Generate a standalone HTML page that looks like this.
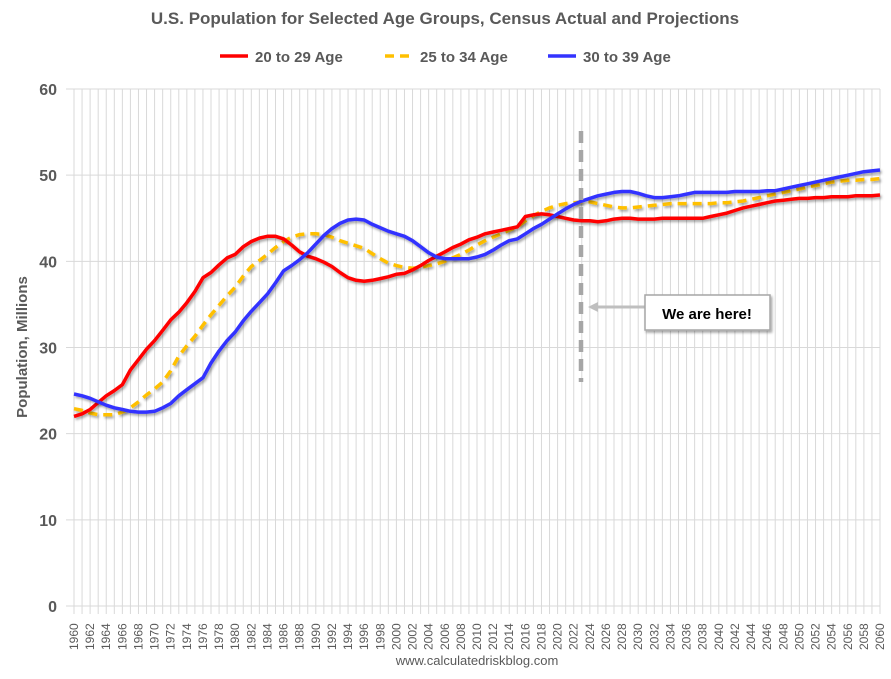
<!DOCTYPE html>
<html><head><meta charset="utf-8"><style>
body{margin:0;background:#fff;font-family:"Liberation Sans",sans-serif}
svg text{font-family:"Liberation Sans",sans-serif}
</style></head><body>
<svg id="c" width="891" height="674" xmlns="http://www.w3.org/2000/svg">
<defs><filter id="sh" x="-5%" y="-5%" width="110%" height="120%"><feDropShadow dx="1.5" dy="2" stdDeviation="1.2" flood-color="#000" flood-opacity="0.35"/></filter></defs>
<text x="445" y="24" text-anchor="middle" font-size="17" font-weight="bold" fill="#595959">U.S. Population for Selected Age Groups, Census Actual and Projections</text>
<g id="legend"></g>
<g id="grid"></g>
<g id="series"></g>
<text transform="translate(27,347) rotate(-90)" text-anchor="middle" font-size="15" font-weight="bold" fill="#595959">Population, Millions</text>
<text x="477" y="665" text-anchor="middle" font-size="13" fill="#595959">www.calculatedriskblog.com</text>
<line x1="581" y1="131" x2="581" y2="382" stroke="#a6a6a6" stroke-width="4.5" stroke-dasharray="12,7"/>
<line x1="645" y1="307" x2="596" y2="307" stroke="#bfbfbf" stroke-width="3"/>
<polygon points="588,307 598,302 598,312" fill="#bfbfbf"/>
<rect x="645" y="295" width="125" height="35" fill="#fff" stroke="#a6a6a6" stroke-width="1.5" filter="url(#sh)"/>
<text x="707" y="319" text-anchor="middle" font-size="15" font-weight="bold" fill="#000">We are here!</text>
</svg>
<script>
const years=[];for(let y=1960;y<=2060;y++)years.push(y);
const yTicks=[0,10,20,30,40,50,60];
const red=[22,22.3,22.8,23.6,24.4,25,25.7,27.4,28.6,29.8,30.8,32,33.2,34.1,35.2,36.5,38.1,38.7,39.6,40.4,40.8,41.7,42.3,42.7,42.9,42.9,42.6,41.9,41.1,40.6,40.3,39.9,39.4,38.7,38.1,37.8,37.7,37.8,38,38.2,38.5,38.6,39,39.5,40.1,40.6,41.1,41.6,42,42.5,42.8,43.2,43.4,43.6,43.8,44,45.2,45.4,45.5,45.4,45.2,45,44.8,44.7,44.7,44.6,44.7,44.9,45,45,44.9,44.9,44.9,45,45,45,45,45,45,45.2,45.4,45.6,45.9,46.2,46.4,46.6,46.8,47,47.1,47.2,47.3,47.3,47.4,47.4,47.5,47.5,47.5,47.6,47.6,47.6,47.7];
const yellow=[22.9,22.7,22.4,22.2,22.2,22.2,22.5,23,23.7,24.5,25.2,26,27.3,29,30.2,31.3,32.6,33.8,34.9,36,37,38.3,39.4,40.1,40.8,41.6,42.3,42.8,43.1,43.2,43.2,43.1,42.8,42.4,42.1,41.8,41.5,40.9,40.3,39.8,39.5,39.3,39.2,39.3,39.5,39.7,40,40.4,40.8,41.3,41.9,42.4,42.8,43.2,43.6,44,44.7,45.3,45.8,46.2,46.5,46.7,46.8,46.9,46.9,46.7,46.5,46.3,46.2,46.2,46.3,46.4,46.5,46.6,46.7,46.7,46.7,46.7,46.7,46.7,46.8,46.8,46.9,47,47.2,47.4,47.6,47.8,48,48.2,48.4,48.6,48.8,49,49.2,49.3,49.4,49.4,49.5,49.5,49.6];
const blue=[24.6,24.4,24.1,23.7,23.3,23,22.8,22.6,22.5,22.5,22.6,23,23.5,24.4,25.1,25.8,26.5,28.2,29.6,30.8,31.8,33.1,34.2,35.2,36.2,37.5,38.9,39.5,40.2,41,42,43,43.8,44.4,44.8,44.9,44.8,44.3,43.9,43.5,43.2,42.9,42.4,41.7,41,40.5,40.3,40.3,40.3,40.3,40.5,40.8,41.3,41.9,42.4,42.6,43.2,43.8,44.3,44.9,45.5,46.1,46.6,47,47.3,47.6,47.8,48,48.1,48.1,47.9,47.6,47.4,47.4,47.5,47.6,47.8,48,48,48,48,48,48.1,48.1,48.1,48.1,48.2,48.2,48.4,48.6,48.8,49,49.2,49.4,49.6,49.8,50,50.2,50.4,50.5,50.6];
const seriesNames=["20 to 29 Age","25 to 34 Age","30 to 39 Age"];
const NS="http://www.w3.org/2000/svg";
const X0=74,X1=880,Y0=606,Y1=89;
const xs=i=>X0+(X1-X0)*i/(years.length-1);
const ys=v=>Y0-(Y0-Y1)*v/60;
function mk(t,a,p){const e=document.createElementNS(NS,t);for(const k in a)e.setAttribute(k,a[k]);p.appendChild(e);return e;}
const g=document.getElementById('grid');
years.forEach((yr,i)=>{
 const l=mk('line',{x1:xs(i),x2:xs(i),y1:Y1,y2:Y0+8,stroke:'#d9d9d9','stroke-width':1},g);
 
 
 if(yr%2===0){const t=mk('text',{transform:`translate(${xs(i)+4},${Y0+44}) rotate(-90)`,'font-size':12,fill:'#595959'},g);t.textContent=yr;
 
 }
});
yTicks.forEach(v=>{
 const l=mk('line',{x1:X0-8,x2:X1,y1:ys(v),y2:ys(v),stroke:'#d9d9d9','stroke-width':1},g);
 
 
 const t=mk('text',{x:57,y:ys(v)+6,'text-anchor':'end','font-size':16,'font-weight':'bold',fill:'#595959'},g);t.textContent=v;
 
 
});
const s=document.getElementById('series');
const defs=[[yellow,'#ffc000','9,6','series-25-34'],[red,'#ff0000','','series-20-29'],[blue,'#3333ff','','series-30-39']];
defs.forEach(([d,c,da,n])=>{
 const p=mk('path',{d:d.map((v,i)=>(i?'L':'M')+xs(i).toFixed(1)+','+ys(v).toFixed(1)).join(''),fill:'none',stroke:c,'stroke-width':3.5,'stroke-dasharray':da,'stroke-linejoin':'round',filter:'url(#sh)'},s);
 
 
});
const lg=document.getElementById('legend');
const lx=[220,385,548],lc=['#ff0000','#ffc000','#3333ff'];
seriesNames.forEach((nm,i)=>{
 const l=mk('line',{x1:lx[i],x2:lx[i]+28,y1:56,y2:56,stroke:lc[i],'stroke-width':3.5,'stroke-dasharray':i==1?'9,6':''},lg);
 
 
 const t=mk('text',{x:lx[i]+35,y:62,'font-size':15,'font-weight':'bold',fill:'#595959'},lg);t.textContent=nm;
 
 
});
</script>
</body></html>
